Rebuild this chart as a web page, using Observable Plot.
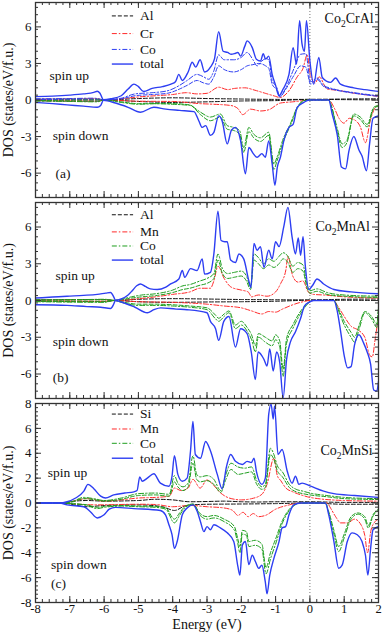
<!DOCTYPE html>
<html><head><meta charset="utf-8">
<script src="https://cdn.jsdelivr.net/npm/d3@7"></script>
<script src="https://cdn.jsdelivr.net/npm/@observablehq/plot@0.6"></script>
<style>
body{margin:0;background:#fff}
#wrap{position:relative;width:382px;height:633px;font-family:"Liberation Serif","Times New Roman",serif}
#wrap svg{position:absolute;left:0}
#wrap svg text{font-family:"Liberation Serif","DejaVu Serif",serif !important}
</style></head><body><div id="wrap"></div>
<script>
// ---------- shared axes ----------
const energyTicks = [-8,-7,-6,-5,-4,-3,-2,-1,0,1,2];
const dosTicksAB = [-6,-3,0,3,6];
const dosTicksC = [-8,-6,-4,-2,0,2,4,6,8];

// ---------- panel (a) Co2CrAl ----------
const aTotUp = [[-8,0.28],[-7.5,0.32],[-7,0.4],[-6.6,0.5],[-6.3,0.62],[-6.2,0.72],[-6.12,0.55],[-6.02,0.02],[-5.8,0.1],[-5.5,0.35],[-5.3,0.9],[-5.13,1.3],[-5.0,1.1],[-4.85,0.7],[-4.6,0.95],[-4.3,1.1],[-4.05,1.3],[-3.92,1.5],[-3.82,2.1],[-3.72,1.6],[-3.55,2.3],[-3.43,3.1],[-3.33,2.7],[-3.2,3.3],[-3.07,2.3],[-2.9,2.7],[-2.78,3.4],[-2.66,5.6],[-2.53,4.0],[-2.4,3.9],[-2.3,3.75],[-2.2,3.8],[-2.1,3.9],[-2.02,3.6],[-1.9,4.4],[-1.83,4.85],[-1.68,4.3],[-1.56,3.35],[-1.44,3.2],[-1.36,3.8],[-1.29,3.35],[-1.2,3.6],[-1.1,2.1],[-1.0,1.2],[-0.9,0.35],[-0.78,0.9],[-0.61,2.1],[-0.49,4.3],[-0.39,2.95],[-0.3,6.5],[-0.23,4.6],[-0.16,4.0],[-0.1,6.5],[0,3.2],[0.11,1.3],[0.26,3.5],[0.36,1.85],[0.6,1.45],[0.75,1.8],[0.89,1.3],[1.28,1.0],[1.6,0.85],[2,0.7]];
const aTotDn = [[-8,-0.2],[-7.5,-0.3],[-7.08,-0.4],[-6.6,-0.5],[-6.2,-0.6],[-6.1,-0.45],[-6.02,-0.03],[-5.67,-0.25],[-5.3,-0.6],[-4.94,-1.0],[-4.55,-0.6],[-4.2,-0.75],[-3.8,-0.85],[-3.38,-0.95],[-3.24,-1.7],[-3.14,-2.25],[-3.04,-2.1],[-2.9,-2.9],[-2.8,-2.65],[-2.66,-1.3],[-2.56,-1.7],[-2.41,-3.6],[-2.29,-2.5],[-2.17,-2.25],[-2.02,-3.35],[-1.88,-6.05],[-1.78,-3.9],[-1.65,-4.4],[-1.54,-4.7],[-1.4,-4.4],[-1.3,-4.7],[-1.2,-3.35],[-1.1,-5.25],[-1.02,-7.0],[-0.95,-5.5],[-0.86,-4.7],[-0.76,-3.35],[-0.61,-2.25],[-0.49,-2.0],[-0.37,-0.6],[-0.18,-0.2],[-0.03,0],[0.55,0],[0.65,-1.15],[0.8,-2.9],[0.92,-5.5],[1.04,-5.65],[1.14,-4.15],[1.28,-3.0],[1.43,-4.1],[1.52,-4.6],[1.65,-5.8],[1.74,-3.6],[1.84,-1.5],[2,-1.3]];
const aCoUp1 = [[-8,0.1],[-7,0.12],[-6.3,0.15],[-6.0,0.02],[-5.5,0.15],[-5.1,0.5],[-4.6,0.6],[-4.16,0.75],[-3.8,1.2],[-3.58,1.6],[-3.29,2.1],[-3.1,1.9],[-2.95,1.7],[-2.8,2.4],[-2.66,3.7],[-2.5,3.3],[-2.22,3.3],[-2.0,3.5],[-1.83,3.9],[-1.66,3.3],[-1.54,2.8],[-1.4,3.2],[-1.29,3.4],[-1.2,3.3],[-1.1,1.6],[-0.96,1.0],[-0.88,0.3],[-0.7,1.0],[-0.47,2.55],[-0.27,3.75],[-0.12,3.8],[0.02,1.5],[0.21,1.8],[0.4,1.2],[0.7,0.9],[1.3,0.6],[2,0.35]];
const aCoUp2 = [[-8,0.05],[-6.0,0.02],[-5.5,0.1],[-5.1,0.35],[-4.6,0.45],[-4.16,0.55],[-3.8,0.9],[-3.58,1.2],[-3.29,1.6],[-3.1,1.4],[-2.95,1.3],[-2.8,1.9],[-2.66,2.8],[-2.5,2.5],[-2.22,2.3],[-2.0,2.5],[-1.83,2.8],[-1.66,2.9],[-1.49,3.0],[-1.29,2.8],[-1.2,2.6],[-1.1,1.3],[-0.96,0.8],[-0.88,0.25],[-0.7,0.9],[-0.47,2.0],[-0.27,2.8],[-0.12,2.7],[0.02,1.3],[0.21,1.7],[0.4,1.1],[0.7,0.85],[1.3,0.55],[2,0.3]];
const aCoDn1 = [[-8,-0.08],[-7,-0.12],[-6.2,-0.15],[-6.0,0],[-5.5,-0.2],[-5,-0.35],[-4.5,-0.3],[-4,-0.35],[-3.5,-0.45],[-3.19,-1.0],[-2.9,-1.4],[-2.61,-1.15],[-2.41,-2.1],[-2.22,-2.25],[-2.05,-2.5],[-1.93,-3.9],[-1.78,-2.25],[-1.64,-2.8],[-1.44,-3.1],[-1.2,-2.65],[-1.05,-5.25],[-0.96,-4.7],[-0.76,-3.05],[-0.57,-1.95],[-0.37,-0.6],[-0.18,-0.05],[0,0],[0.55,0],[0.6,-0.3],[0.79,-2.25],[0.94,-3.6],[1.08,-3.3],[1.28,-1.15],[1.47,-1.4],[1.67,-2.0],[1.86,-0.6],[2,-0.45]];
const aCoDn2 = [[-8,-0.05],[-6.0,0],[-5.5,-0.15],[-5,-0.3],[-4,-0.3],[-3.5,-0.4],[-3.19,-1.2],[-2.9,-1.7],[-2.61,-1.4],[-2.41,-2.4],[-2.22,-2.5],[-2.05,-2.8],[-1.93,-4.3],[-1.78,-2.6],[-1.64,-3.1],[-1.44,-3.4],[-1.2,-2.9],[-1.05,-5.7],[-0.96,-5.0],[-0.76,-3.3],[-0.57,-2.1],[-0.37,-0.7],[-0.18,-0.05],[0,0],[0.55,0],[0.62,-0.4],[0.79,-2.5],[0.94,-3.9],[1.08,-3.5],[1.28,-1.3],[1.47,-1.6],[1.67,-2.2],[1.86,-0.7],[2,-0.5]];
const aCrUp = [[-8,0.05],[-7,0.08],[-6.2,0.1],[-6.0,0.0],[-5.5,0.1],[-5,0.25],[-4.5,0.35],[-4,0.45],[-3.6,0.6],[-3.3,0.5],[-3.0,0.55],[-2.66,1.05],[-2.4,0.85],[-2.2,0.95],[-1.9,1.0],[-1.6,0.8],[-1.3,0.55],[-1.0,0.3],[-0.88,0.2],[-0.6,0.8],[-0.37,1.9],[-0.2,2.6],[-0.08,3.7],[0.02,2.0],[0.15,1.4],[0.27,1.9],[0.5,0.9],[0.8,0.8],[1.2,0.6],[2,0.3]];
const aCrDn = [[-8,-0.05],[-6.2,-0.08],[-6.0,0],[-5,-0.1],[-4,-0.12],[-3.2,-0.3],[-2.8,-0.35],[-2.31,-0.45],[-2.1,-0.7],[-1.96,-1.2],[-1.73,-0.75],[-1.44,-0.9],[-1.2,-0.8],[-0.86,-0.25],[-0.5,-0.15],[-0.2,-0.05],[0,0],[0.55,0],[0.7,-0.6],[0.85,-1.5],[0.99,-1.9],[1.15,-1.5],[1.28,-1.6],[1.47,-2.2],[1.62,-3.5],[1.76,-1.7],[1.91,-0.6],[2,-0.45]];
const aAlUp = [[-8,0.06],[-6.2,0.08],[-6.0,0],[-5,0.12],[-4,0.18],[-3,0.12],[-2,0.08],[-1,0.05],[0,0.05],[1,0.08],[2,0.1]];
const aAlDn = [[-8,-0.06],[-6.2,-0.1],[-6,0],[-5,-0.12],[-4,-0.2],[-3,-0.15],[-2,-0.08],[-1,-0.05],[0,0.05],[1,0.03],[2,0.0]];

// ---------- panel (b) Co2MnAl ----------
const bTotUp = [[-8,0.2],[-7.5,0.28],[-7.08,0.35],[-6.6,0.42],[-6.2,0.5],[-5.95,0.6],[-5.81,0.65],[-5.72,0.3],[-5.67,0.02],[-5.52,0.1],[-5.3,0.45],[-5.18,0.8],[-5.05,1.2],[-4.94,1.35],[-4.8,1.15],[-4.65,0.95],[-4.45,0.9],[-4.2,1.1],[-4.06,1.35],[-3.82,1.75],[-3.72,2.45],[-3.65,1.9],[-3.48,2.6],[-3.29,2.45],[-3.14,3.4],[-3.07,2.15],[-2.9,2.3],[-2.8,3.8],[-2.68,7.3],[-2.59,4.9],[-2.48,4.8],[-2.41,4.8],[-2.31,3.3],[-2.17,3.1],[-2.07,3.8],[-1.93,3.4],[-1.78,1.6],[-1.72,1.05],[-1.63,4.65],[-1.54,4.1],[-1.44,4.4],[-1.34,2.7],[-1.2,4.1],[-1.1,3.4],[-1.0,4.8],[-0.9,4.4],[-0.76,6.05],[-0.64,7.6],[-0.52,5.2],[-0.42,3.8],[-0.34,5.1],[-0.27,3.7],[-0.2,5.2],[-0.13,2.7],[-0.03,0.9],[0.07,1.2],[0.21,1.75],[0.4,1.35],[0.7,0.9],[1.2,0.7],[2,0.55]];
const bTotDn = [[-8,-0.35],[-7.08,-0.4],[-6.5,-0.5],[-6.1,-0.55],[-5.81,-0.65],[-5.72,-0.3],[-5.67,0],[-5.52,-0.1],[-5.1,-0.55],[-4.74,-1.0],[-4.55,-0.75],[-4.35,-0.6],[-3.9,-0.7],[-3.58,-0.75],[-3.0,-1.0],[-2.9,-1.7],[-2.75,-2.3],[-2.66,-3.25],[-2.51,-1.7],[-2.36,-1.3],[-2.17,-3.8],[-2.02,-2.3],[-1.83,-2.7],[-1.71,-4.2],[-1.59,-6.45],[-1.51,-4.2],[-1.34,-4.8],[-1.25,-5.35],[-1.17,-3.95],[-1.07,-5.75],[-0.97,-4.2],[-0.88,-5.05],[-0.78,-7.95],[-0.68,-4.8],[-0.57,-3.4],[-0.42,-2.55],[-0.27,-1.45],[-0.16,-0.45],[-0.03,-0.15],[0.11,0],[0.7,0],[0.8,-0.9],[0.9,-2.6],[1.0,-4.5],[1.1,-5.5],[1.2,-5.4],[1.3,-3.65],[1.43,-2.8],[1.57,-3.5],[1.67,-4.2],[1.77,-5.2],[1.86,-7.3],[1.95,-7.4],[2,-6.6]];
const bCoUp1 = [[-8,0.05],[-6.5,0.08],[-6.0,0.1],[-5.7,0.02],[-5.5,0.1],[-5.2,0.3],[-4.9,0.45],[-4.5,0.55],[-4.0,0.85],[-3.7,1.2],[-3.5,1.3],[-3.2,1.6],[-3.0,1.8],[-2.8,2.2],[-2.68,3.8],[-2.55,2.6],[-2.4,2.2],[-2.2,2.3],[-2.0,2.4],[-1.85,2.0],[-1.73,1.1],[-1.63,3.8],[-1.5,3.5],[-1.35,3.0],[-1.2,3.4],[-1.05,3.2],[-0.9,3.6],[-0.78,3.9],[-0.64,3.6],[-0.5,2.8],[-0.35,3.1],[-0.2,2.9],[-0.1,1.5],[0,0.8],[0.2,0.95],[0.5,0.65],[1.0,0.45],[2,0.35]];
const bCoUp2 = [[-8,0.03],[-6.0,0.06],[-5.7,0],[-5.5,0.05],[-5.2,0.2],[-4.9,0.3],[-4.5,0.4],[-4.0,0.65],[-3.7,0.9],[-3.5,1.0],[-3.2,1.25],[-3.0,1.4],[-2.8,1.8],[-2.68,3.3],[-2.55,2.2],[-2.4,1.8],[-2.2,1.9],[-2.0,2.0],[-1.85,1.6],[-1.73,0.9],[-1.63,3.3],[-1.5,3.0],[-1.35,2.6],[-1.2,2.9],[-1.05,2.7],[-0.9,3.0],[-0.78,3.4],[-0.64,3.1],[-0.5,2.3],[-0.35,2.6],[-0.2,2.4],[-0.1,1.2],[0,0.6],[0.2,0.75],[0.5,0.5],[1.0,0.35],[2,0.25]];
const bCoDn1 = [[-8,-0.1],[-6,-0.15],[-5.7,0],[-5.5,-0.15],[-5.0,-0.4],[-4.5,-0.4],[-4.0,-0.45],[-3.5,-0.55],[-3.0,-0.75],[-2.75,-1.5],[-2.66,-1.7],[-2.5,-1.3],[-2.36,-1.0],[-2.17,-2.3],[-2.0,-2.0],[-1.83,-2.5],[-1.7,-3.2],[-1.59,-4.2],[-1.5,-3.0],[-1.3,-3.4],[-1.1,-3.7],[-1.0,-3.2],[-0.88,-3.8],[-0.78,-6.2],[-0.68,-3.5],[-0.5,-2.3],[-0.3,-1.2],[-0.1,-0.4],[0,-0.1],[0.1,0],[0.7,0],[0.8,-0.6],[1.0,-2.0],[1.2,-3.0],[1.3,-3.4],[1.45,-2.2],[1.6,-1.0],[1.8,-1.5],[1.95,-2.2],[2,-0.6]];
const bCoDn2 = [[-8,-0.06],[-6,-0.1],[-5.7,0],[-5.5,-0.1],[-5.0,-0.3],[-4.5,-0.3],[-4.0,-0.35],[-3.5,-0.45],[-3.0,-0.6],[-2.75,-1.2],[-2.66,-1.45],[-2.5,-1.1],[-2.36,-0.85],[-2.17,-2.0],[-2.0,-1.7],[-1.83,-2.2],[-1.7,-2.8],[-1.59,-3.7],[-1.5,-2.7],[-1.3,-3.0],[-1.1,-3.3],[-1.0,-2.8],[-0.88,-3.3],[-0.78,-5.6],[-0.68,-3.1],[-0.5,-2.0],[-0.3,-1.0],[-0.1,-0.3],[0,-0.08],[0.1,0],[0.7,0],[0.8,-0.5],[1.0,-1.7],[1.2,-2.6],[1.3,-3.0],[1.45,-1.9],[1.6,-0.9],[1.8,-1.3],[1.95,-1.9],[2,-0.5]];
const bMnUp = [[-8,0.03],[-6,0.06],[-5.7,0],[-5,0.15],[-4.5,0.3],[-4,0.5],[-3.5,0.7],[-3.2,1.0],[-2.9,1.0],[-2.8,1.6],[-2.68,2.8],[-2.5,1.8],[-2.3,1.1],[-2.0,0.85],[-1.8,0.7],[-1.7,0.3],[-1.5,0.45],[-1.25,0.35],[-1.0,0.7],[-0.85,1.4],[-0.7,2.5],[-0.64,3.6],[-0.5,2.0],[-0.35,1.5],[-0.2,1.6],[-0.05,0.7],[0.1,0.5],[0.4,0.45],[1,0.3],[2,0.2]];
const bMnDn = [[-8,-0.05],[-6,-0.08],[-5.7,0],[-5,-0.1],[-4,-0.15],[-3,-0.3],[-2.5,-0.45],[-2,-0.6],[-1.7,-0.85],[-1.4,-1.1],[-1.2,-0.9],[-1.0,-0.95],[-0.8,-0.7],[-0.5,-0.35],[-0.2,-0.1],[0,0],[0.7,0],[0.8,-0.4],[1.0,-1.3],[1.2,-2.1],[1.4,-2.4],[1.6,-3.0],[1.75,-4.5],[1.82,-4.6],[1.9,-3.2],[2,-1.3]];
const bAlUp = [[-8,0.05],[-6,0.08],[-5.7,0],[-5,0.1],[-4,0.15],[-3,0.12],[-2,0.08],[-1,0.06],[0,0.05],[1,0.1],[2,0.12]];
const bAlDn = [[-8,-0.05],[-6,-0.08],[-5.7,0],[-5,-0.1],[-4,-0.15],[-3,-0.12],[-2,-0.1],[-1,-0.06],[0,0.02],[1,0.02],[2,0]];

// ---------- panel (c) Co2MnSi ----------
const cTotUp = [[-8,0],[-7.3,0],[-7.08,0.1],[-6.83,0.4],[-6.59,0.95],[-6.47,1.5],[-6.3,1.15],[-6.1,0.55],[-5.96,0.4],[-5.72,0.65],[-5.4,0.8],[-5.13,0.9],[-5.04,1.0],[-4.96,2.1],[-4.89,1.75],[-4.74,2.0],[-4.55,2.35],[-4.36,1.6],[-4.11,1.35],[-4.02,2.15],[-3.95,3.8],[-3.85,2.3],[-3.72,1.75],[-3.58,2.0],[-3.48,4.2],[-3.41,6.55],[-3.34,3.9],[-3.19,3.6],[-3.04,4.95],[-2.9,4.2],[-2.7,2.3],[-2.56,1.15],[-2.43,2.95],[-2.31,3.9],[-2.17,3.35],[-1.97,3.1],[-1.83,3.35],[-1.71,3.25],[-1.63,3.6],[-1.56,2.55],[-1.4,1.5],[-1.3,2.0],[-1.2,7.15],[-1.13,7.95],[-1.07,6.75],[-1.03,7.8],[-0.93,3.9],[-0.81,4.3],[-0.66,2.55],[-0.52,1.6],[-0.42,2.15],[-0.32,1.5],[-0.23,1.6],[0.02,1.35],[0.4,0.95],[0.7,0.75],[1.3,0.6],[2,0.45]];
const cTotDn = [[-8,0],[-7.3,0],[-7.08,-0.15],[-6.59,-0.3],[-6.4,-0.7],[-6.2,-1.2],[-6.0,-0.95],[-5.85,-0.5],[-5.67,-0.35],[-5.13,-0.45],[-4.36,-0.6],[-4.21,-0.95],[-4.11,-1.75],[-4.02,-2.55],[-3.95,-3.65],[-3.87,-3.1],[-3.72,-0.95],[-3.58,-0.4],[-3.41,-0.15],[-3.29,-0.65],[-3.19,-1.5],[-3.09,-2.3],[-3.0,-1.9],[-2.9,-2.15],[-2.8,-1.75],[-2.61,-2.0],[-2.41,-2.4],[-2.22,-3.1],[-2.1,-5.1],[-2.04,-5.8],[-1.97,-3.4],[-1.88,-3.1],[-1.78,-4.95],[-1.68,-4.2],[-1.59,-4.7],[-1.49,-5.25],[-1.4,-5.0],[-1.3,-6.35],[-1.25,-7.3],[-1.17,-5.8],[-1.05,-4.45],[-0.9,-3.1],[-0.81,-2.0],[-0.71,-1.9],[-0.61,-0.95],[-0.47,-0.15],[-0.27,0],[0.45,0],[0.55,-0.95],[0.7,-3.1],[0.84,-5.25],[0.94,-5.0],[1.09,-3.1],[1.23,-2.4],[1.38,-2.55],[1.52,-3.1],[1.62,-4.2],[1.69,-5.8],[1.77,-3.65],[1.84,-2.15],[2,-1.9]];
const cCoUp1 = [[-8,0],[-7.2,0],[-6.9,0.15],[-6.6,0.45],[-6.3,0.35],[-6.0,0.2],[-5.5,0.4],[-5.0,0.75],[-4.5,0.8],[-4.1,0.7],[-3.95,2.2],[-3.85,1.6],[-3.7,1.3],[-3.55,1.6],[-3.41,3.8],[-3.3,2.3],[-3.2,2.1],[-3.0,2.2],[-2.8,1.9],[-2.6,1.0],[-2.45,2.3],[-2.3,3.2],[-2.1,2.9],[-1.9,2.8],[-1.7,2.9],[-1.55,1.8],[-1.4,1.3],[-1.3,1.5],[-1.15,4.4],[-1.05,3.9],[-0.95,3.0],[-0.8,2.5],[-0.6,1.5],[-0.4,1.1],[-0.2,0.95],[0,0.8],[0.5,0.6],[1,0.45],[2,0.35]];
const cCoUp2 = [[-8,0],[-7.2,0],[-6.9,0.1],[-6.6,0.35],[-6.3,0.28],[-6.0,0.15],[-5.5,0.3],[-5.0,0.6],[-4.5,0.65],[-4.1,0.55],[-3.95,1.7],[-3.85,1.3],[-3.7,1.0],[-3.55,1.3],[-3.41,3.2],[-3.3,1.9],[-3.2,1.7],[-3.0,1.8],[-2.8,1.5],[-2.6,0.85],[-2.45,1.9],[-2.3,2.7],[-2.1,2.3],[-1.9,2.4],[-1.7,2.5],[-1.55,1.5],[-1.4,1.1],[-1.3,1.25],[-1.15,3.9],[-1.05,3.5],[-0.95,2.6],[-0.8,2.1],[-0.6,1.25],[-0.4,0.9],[-0.2,0.75],[0,0.65],[0.5,0.5],[1,0.35],[2,0.28]];
const cCoDn1 = [[-8,0],[-7.2,0],[-7,-0.05],[-6.5,-0.2],[-6.2,-0.45],[-6.0,-0.35],[-5.5,-0.25],[-5,-0.3],[-4.5,-0.35],[-4.2,-0.5],[-3.95,-1.6],[-3.8,-1.0],[-3.65,-0.4],[-3.41,-0.1],[-3.2,-1.0],[-3.0,-1.3],[-2.8,-1.2],[-2.5,-1.5],[-2.2,-2.2],[-2.1,-3.3],[-2.04,-4.0],[-1.97,-2.5],[-1.85,-2.6],[-1.78,-3.5],[-1.6,-3.4],[-1.4,-3.7],[-1.28,-5.7],[-1.15,-4.5],[-1.0,-3.3],[-0.8,-1.6],[-0.6,-0.6],[-0.4,-0.1],[-0.27,0],[0.45,0],[0.55,-0.8],[0.7,-2.5],[0.84,-3.9],[1.0,-2.8],[1.2,-1.3],[1.4,-0.9],[1.6,-1.3],[1.7,-2.0],[1.85,-1.0],[2,-0.6]];
const cCoDn2 = [[-8,0],[-7.2,0],[-7,-0.04],[-6.5,-0.15],[-6.2,-0.35],[-6.0,-0.28],[-5.5,-0.2],[-5,-0.25],[-4.5,-0.28],[-4.2,-0.4],[-3.95,-1.3],[-3.8,-0.8],[-3.65,-0.3],[-3.41,-0.08],[-3.2,-0.85],[-3.0,-1.1],[-2.8,-1.0],[-2.5,-1.3],[-2.2,-1.9],[-2.1,-2.9],[-2.04,-3.5],[-1.97,-2.2],[-1.85,-2.3],[-1.78,-3.1],[-1.6,-3.0],[-1.4,-3.3],[-1.28,-5.2],[-1.15,-4.0],[-1.0,-2.9],[-0.8,-1.4],[-0.6,-0.5],[-0.4,-0.08],[-0.27,0],[0.45,0],[0.55,-0.7],[0.7,-2.2],[0.84,-3.5],[1.0,-2.5],[1.2,-1.1],[1.4,-0.8],[1.6,-1.1],[1.7,-1.8],[1.85,-0.9],[2,-0.5]];
const cMnUp = [[-8,0],[-7.2,0],[-7,0.1],[-6.5,0.35],[-6.0,0.15],[-5.5,0.25],[-5,0.4],[-4.5,0.45],[-4.1,0.55],[-3.95,1.2],[-3.75,1.0],[-3.55,1.2],[-3.41,1.9],[-3.2,1.2],[-3.0,1.85],[-2.8,1.4],[-2.6,0.8],[-2.4,0.45],[-2.2,0.3],[-2.0,0.25],[-1.7,0.35],[-1.4,0.7],[-1.25,1.5],[-1.05,3.6],[-0.95,2.2],[-0.85,1.8],[-0.7,1.2],[-0.5,0.9],[-0.2,0.6],[0,0.45],[1,0.2],[2,0.15]];
const cMnDn = [[-8,0],[-7.2,0],[-7,-0.05],[-6.2,-0.15],[-5,-0.1],[-4.5,-0.12],[-4,-0.3],[-3.5,-0.2],[-3,-0.3],[-2.5,-0.4],[-2.25,-0.6],[-2.1,-1.0],[-1.95,-0.75],[-1.8,-1.1],[-1.65,-0.85],[-1.5,-1.1],[-1.3,-1.0],[-1.0,-0.5],[-0.6,-0.15],[-0.3,0],[0.5,0],[0.6,-0.4],[0.75,-1.1],[0.9,-1.6],[1.1,-1.6],[1.3,-1.3],[1.5,-1.8],[1.6,-2.6],[1.68,-4.0],[1.78,-2.2],[1.9,-1.5],[2,-1.3]];
const cSiUp = [[-8,0],[-7.2,0],[-7,0.1],[-6.5,0.2],[-6,0.15],[-5,0.2],[-4.5,0.3],[-4,0.25],[-3.5,0.1],[-3,0.12],[-2.5,0.15],[-2,0.1],[-1.5,0.08],[-1,0.1],[0,0.1],[1,0.05],[2,0.05]];
const cSiDn = [[-8,0],[-7.2,0],[-7,-0.08],[-6.5,-0.3],[-6,-0.2],[-5,-0.15],[-4.3,-0.3],[-3.95,-0.6],[-3.6,-0.2],[-3,-0.1],[-2,-0.08],[-1,-0.05],[0,0],[1,-0.1],[2,-0.1]];

// ---------- labels ----------
const legendA = ["Al","Cr","Co","total"];
const legendB = ["Al","Mn","Co","total"];
const legendC = ["Si","Mn","Co","total"];
const compounds = ["Co2CrAl","Co2MnAl","Co2MnSi"];
const tags = ["(a)","(b)","(c)"];

// ---------- styles ----------
const BLUE="#2d3ef2", RED="#ff2a2a", GREEN="#1e9e1e", BLACK="#111";
const DASH="4,2", DASHDOT="5,2,1.5,2";
const FONT='"Liberation Serif", "DejaVu Serif", serif';

function panel(cfg){
  const {series, legend, legendStyles, legendY, yTicks, yMinorStep, height, mt, mb, showX, texts} = cfg;
  const W=382, ML=35, MR=4;
  const pxX=(W-ML-MR)/10, pxY=(height-mt-mb)/16;
  const tX=6/pxX, tXm=3/pxX, tY=6/pxY, tYm=3/pxY;
  const xMinor=d3.range(-8,2.001,0.2).map(v=>+v.toFixed(2));
  const yMinor=d3.range(-8,8.001,yMinorStep).map(v=>+v.toFixed(3));
  const marks=[];
  marks.push(Plot.ruleX([0],{stroke:"#777",strokeDasharray:"1,2",strokeWidth:1}));
  for(const s of series){
    marks.push(Plot.line(s.data,{x:d=>d[0],y:d=>d[1],stroke:s.stroke,strokeWidth:s.w||1,strokeDasharray:s.dash||null,curve:"monotone-x",clip:true}));
  }
  const tk={stroke:"#333",strokeWidth:1};
  marks.push(Plot.ruleX(xMinor,{x:d=>d,y1:-8,y2:-8+tYm,...tk}));
  marks.push(Plot.ruleX(xMinor,{x:d=>d,y1:8,y2:8-tYm,...tk}));
  marks.push(Plot.ruleX(energyTicks,{x:d=>d,y1:-8,y2:-8+tY,...tk}));
  marks.push(Plot.ruleX(energyTicks,{x:d=>d,y1:8,y2:8-tY,...tk}));
  marks.push(Plot.ruleY(yMinor,{y:d=>d,x1:-8,x2:-8+tXm,...tk}));
  marks.push(Plot.ruleY(yMinor,{y:d=>d,x1:2,x2:2-tXm,...tk}));
  marks.push(Plot.ruleY(yTicks,{y:d=>d,x1:-8,x2:-8+tX,...tk}));
  marks.push(Plot.ruleY(yTicks,{y:d=>d,x1:2,x2:2-tX,...tk}));
  marks.push(Plot.frame({stroke:"#333",strokeWidth:1.3}));
  legend.forEach((lab,i)=>{
    const st=legendStyles[i];
    marks.push(Plot.ruleY([legendY[i]],{y:d=>d,x1:-5.76,x2:-5.14,stroke:st.stroke,strokeWidth:st.w||1,strokeDasharray:st.dash||null}));
    marks.push(Plot.text([lab],{x:-4.95,y:legendY[i],text:d=>d,textAnchor:"start",fontSize:13.5,fontFamily:FONT,fill:"#111"}));
  });
  for(const t of texts){
    marks.push(Plot.text([t.s],{x:t.x,y:t.y,text:d=>d,textAnchor:t.anchor||"start",fontSize:t.size||13.5,fontFamily:FONT,fill:"#111"}));
  }
  marks.push(Plot.axisY({ticks:yTicks,tickSize:0,tickPadding:4,fontSize:13,fontFamily:FONT,label:null,tickFormat:d=>String(d)}));
  marks.push(Plot.text(["DOS (states/eV/f.u.)"],{frameAnchor:"left",rotate:-90,dx:-27,text:d=>d,textAnchor:"middle",lineAnchor:"middle",fontSize:14,fontFamily:FONT,fill:"#111"}));
  if(showX){
    marks.push(Plot.axisX({ticks:energyTicks,tickSize:0,tickPadding:2,fontSize:12.5,fontFamily:FONT,label:null,tickFormat:d=>String(d)}));
    marks.push(Plot.text(["Energy (eV)"],{frameAnchor:"bottom",dy:22,text:d=>d,textAnchor:"middle",lineAnchor:"middle",fontSize:14,fontFamily:FONT,fill:"#111"}));
  }
  const svg=Plot.plot({
    width:W,height,marginLeft:ML,marginRight:MR,marginTop:mt,marginBottom:mb,
    x:{domain:[-8,2],axis:showX?undefined:null},
    y:{domain:[-8,8]},
    style:{fontFamily:FONT,background:"transparent",overflow:"visible",color:"#111"},
    marks
  });
  d3.select(svg).selectAll("text").each(function(){
    const t=this.textContent;
    const m=/^Co2(\w+)$/.exec(t);
    if(m && !this.querySelector("tspan")){
      const el=d3.select(this); el.text(null);
      el.append("tspan").text("Co");
      el.append("tspan").attr("dy","3.5").attr("font-size","9.5").text("2");
      el.append("tspan").attr("dy","-3.5").text(m[1]);
    }
  });
  return svg;
}

const wrap=document.getElementById("wrap");
const pA=panel({
  height:200,mt:2,mb:3,showX:false,yTicks:dosTicksAB,yMinorStep:0.6,
  legend:legendA,legendY:[6.9,5.45,4.15,2.95],
  legendStyles:[{stroke:BLACK,dash:DASH},{stroke:RED,dash:DASHDOT},{stroke:BLUE,dash:DASHDOT},{stroke:BLUE,w:1.4}],
  series:[
    {data:aAlUp,stroke:BLACK,dash:DASH},{data:aAlDn,stroke:BLACK,dash:DASH},
    {data:aCrUp,stroke:RED,dash:DASHDOT},{data:aCrDn,stroke:RED,dash:DASHDOT},
    {data:aCoUp1,stroke:BLUE,dash:DASHDOT},{data:aCoUp2,stroke:BLUE,dash:DASH},
    {data:aCoDn1,stroke:GREEN,dash:DASHDOT},{data:aCoDn2,stroke:GREEN,dash:DASH},
    {data:aTotUp,stroke:BLUE,w:1.4},{data:aTotDn,stroke:BLUE,w:1.4}
  ],
  texts:[{s:"spin up",x:-7.59,y:2.0},{s:"spin down",x:-7.5,y:-2.95},{s:tags[0],x:-7.42,y:-6.05},{s:compounds[0],x:1.86,y:6.65,anchor:"end",size:14}]
});
const pB=panel({
  height:200,mt:2,mb:2,showX:false,yTicks:dosTicksAB,yMinorStep:0.6,
  legend:legendB,legendY:[7.0,5.6,4.45,3.3],
  legendStyles:[{stroke:BLACK,dash:DASH},{stroke:RED,dash:DASHDOT},{stroke:GREEN,dash:DASHDOT},{stroke:BLUE,w:1.4}],
  series:[
    {data:bAlUp,stroke:BLACK,dash:DASH},{data:bAlDn,stroke:BLACK,dash:DASH},
    {data:bMnUp,stroke:RED,dash:DASHDOT},{data:bMnDn,stroke:RED,dash:DASHDOT},
    {data:bCoUp1,stroke:GREEN,dash:DASHDOT},{data:bCoUp2,stroke:GREEN,dash:DASH},
    {data:bCoDn1,stroke:GREEN,dash:DASHDOT},{data:bCoDn2,stroke:GREEN,dash:DASH},
    {data:bTotUp,stroke:BLUE,w:1.4},{data:bTotDn,stroke:BLUE,w:1.4}
  ],
  texts:[{s:"spin up",x:-7.42,y:2.0},{s:"spin down",x:-7.5,y:-3.4},{s:tags[1],x:-7.5,y:-6.3},{s:compounds[1],x:1.75,y:6.0,anchor:"end",size:14}]
});
const pC=panel({
  height:233,mt:3,mb:31,showX:true,yTicks:dosTicksC,yMinorStep:1/3,
  legend:legendC,legendY:[7.15,5.95,4.8,3.6],
  legendStyles:[{stroke:BLACK,dash:DASH},{stroke:RED,dash:DASHDOT},{stroke:GREEN,dash:DASHDOT},{stroke:BLUE,w:1.4}],
  series:[
    {data:cSiUp,stroke:BLACK,dash:DASH},{data:cSiDn,stroke:BLACK,dash:DASH},
    {data:cMnUp,stroke:RED,dash:DASHDOT},{data:cMnDn,stroke:RED,dash:DASHDOT},
    {data:cCoUp1,stroke:GREEN,dash:DASHDOT},{data:cCoUp2,stroke:GREEN,dash:DASH},
    {data:cCoDn1,stroke:GREEN,dash:DASHDOT},{data:cCoDn2,stroke:GREEN,dash:DASH},
    {data:cTotUp,stroke:BLUE,w:1.4},{data:cTotDn,stroke:BLUE,w:1.4}
  ],
  texts:[{s:"spin up",x:-7.64,y:2.4},{s:"spin down",x:-7.55,y:-4.95},{s:tags[2],x:-7.55,y:-6.5},{s:compounds[2],x:1.83,y:4.2,anchor:"end",size:14}]
});
pA.style.top="0px"; pB.style.top="200px"; pC.style.top="400px";
wrap.append(pA,pB,pC);
</script></body></html>
